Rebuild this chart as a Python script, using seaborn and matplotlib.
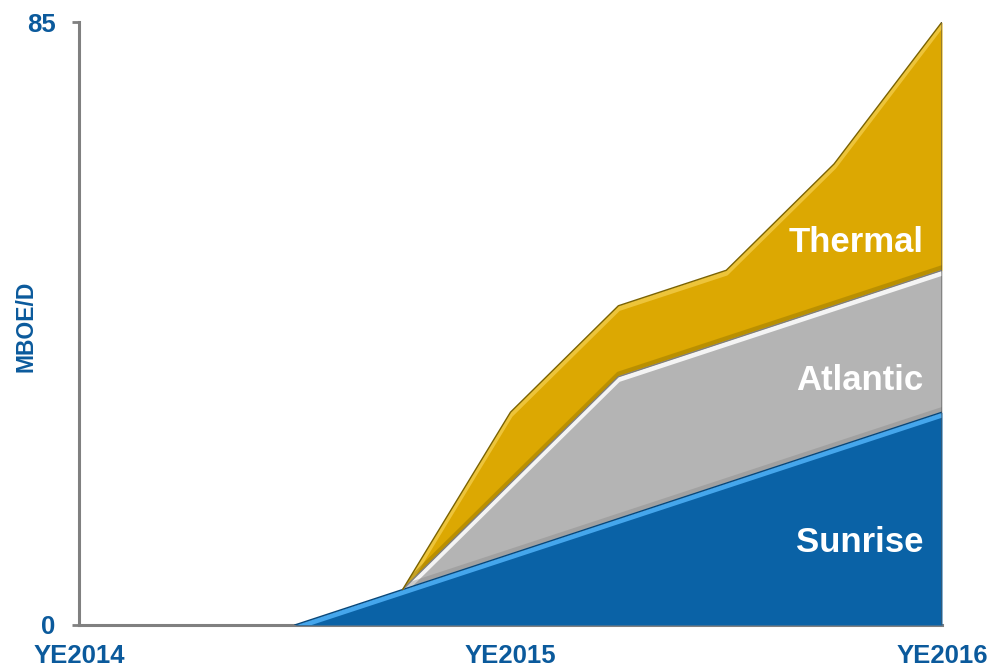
import numpy as np
import pandas as pd
import matplotlib
matplotlib.use("Agg")
import matplotlib.pyplot as plt
import seaborn as sns
from matplotlib import patheffects as pe
from matplotlib.transforms import offset_copy

# ---- data (MBOE/D, quarterly from YE2014 to YE2016) ----
quarters = [0, 1, 2, 3, 4, 5, 6, 7, 8]
sunrise = [0, 0, 0, 5, 10, 15, 20, 25, 30]
atlantic = [0, 0, 0, 0, 10, 20, 20, 20, 20]
thermal = [0, 0, 0, 0, 10, 10, 10, 20, 35]
series_names = ["Sunrise", "Atlantic", "Thermal"]
tick_positions = [0, 4, 8]
tick_labels = ["YE2014", "YE2015", "YE2016"]
y_ticks = [0, 85]

sns.set_theme(style="white")
plt.rcParams["font.family"] = ["Liberation Sans", "DejaVu Sans"]

TXT = "#0B5A9C"
fill_cols = ["#0A62A6", "#B4B4B4", "#DCA802"]
edge_cols = ["#07477A", "#7E7E7E", "#7A6200"]
hi_cols = ["#45A6EC", "#F4F4F4", "#EDC43A"]

fig = plt.figure(figsize=(9.93, 6.69), dpi=100)
ax = fig.add_axes([79 / 993, 44 / 669, 863 / 993, 603 / 669])

df = pd.DataFrame({"q": quarters, "Sunrise": sunrise, "Atlantic": atlantic, "Thermal": thermal})
cum = df[series_names].cumsum(axis=1)
total = cum["Thermal"].values

# soft drop shadow under whole stack
sh = ax.fill_between(df["q"], 0, total, color="white", lw=0, zorder=1)
sh.set_path_effects([pe.SimplePatchShadow(offset=(3, -3), shadow_rgbFace="#555555", alpha=0.45),
                     pe.Normal()])

polys = ax.stackplot(df["q"], df["Sunrise"], df["Atlantic"], df["Thermal"],
                     colors=fill_cols, linewidth=0, zorder=2)

start_idx = [2, 3, 3]
for i, name in enumerate(series_names):
    s = start_idx[i]
    xs = df["q"].values[s:]
    ys = cum[name].values[s:]
    clip_path = polys[i].get_paths()[0]
    # highlight band just below the top edge, clipped to the layer
    hl_tr = offset_copy(ax.transData, fig=fig, x=0, y=-3, units="dots")
    ln, = ax.plot(xs, ys, color=hi_cols[i], lw=3.5, transform=hl_tr, zorder=3,
                  solid_capstyle="butt")
    ln.set_clip_path(clip_path, ax.transData)
    # darker inner shading along the bottom of the layer
    if i > 0:
        bot = cum[series_names[i - 1]].values[s:]
        sh_tr = offset_copy(ax.transData, fig=fig, x=0, y=3, units="dots")
        ln2, = ax.plot(xs, bot, color=edge_cols[i], lw=3, alpha=0.35, transform=sh_tr, zorder=3)
        ln2.set_clip_path(clip_path, ax.transData)
    # thin dark outline on top edge
    sns.lineplot(x=xs, y=ys, color=edge_cols[i], lw=1.0, ax=ax, zorder=4, sort=False)

# right edge shading
ax.plot([8, 8], [0, total[-1]], color="#555555", lw=1.2, alpha=0.6, zorder=4)

# labels inside areas
lab_y = [11.6, 34.4, 53.9]
for name, yv in zip(series_names, lab_y):
    ax.text(7.83, yv, name, ha="right", va="center", color="white",
            fontsize=25, fontweight="bold", zorder=6)

ax.set_xlim(0, 8)
ax.set_ylim(0, 85)
ax.set_xticks(tick_positions)
ax.set_xticklabels(tick_labels)
ax.set_yticks(y_ticks)
ax.set_yticklabels([str(v) for v in y_ticks])
ax.tick_params(axis="x", length=0, pad=14, labelsize=18.5, labelcolor=TXT)
ax.tick_params(axis="y", length=5, width=2, color="#808080", direction="out",
               pad=12, labelsize=18.5, labelcolor=TXT, left=True)
for lab in ax.get_xticklabels() + ax.get_yticklabels():
    lab.set_fontweight("bold")

for side in ["top", "right"]:
    ax.spines[side].set_visible(False)
for side in ["left", "bottom"]:
    ax.spines[side].set_color("#808080")
    ax.spines[side].set_linewidth(2.2)
    ax.spines[side].set_zorder(1.5)
ax.spines["bottom"].set_bounds(0, 8)

ax.set_ylabel("MBOE/D", fontsize=16.5, fontweight="bold", color=TXT, va="center")
ax.yaxis.set_label_coords(-0.0614, 0.495)
ax.grid(False)
ax.set_facecolor("white")

fig.savefig("out.png", dpi=100, facecolor="white")
